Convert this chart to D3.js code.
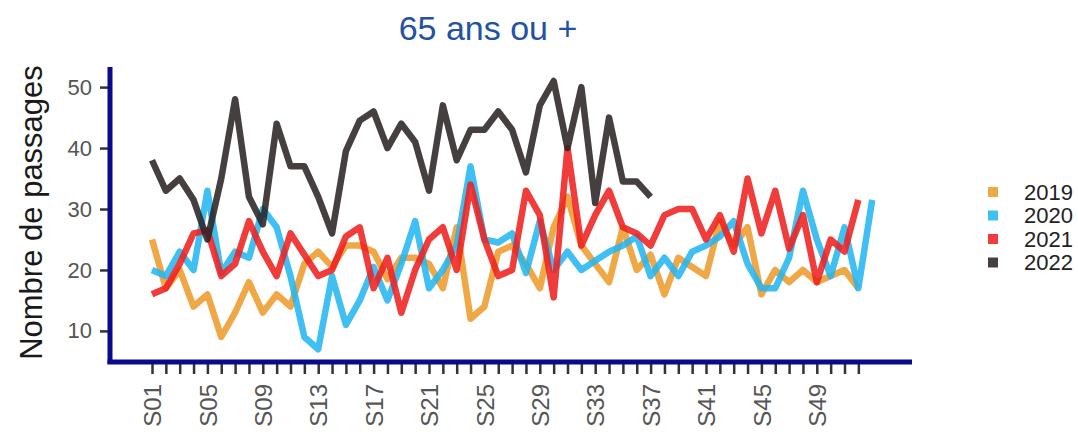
<!DOCTYPE html>
<html>
<head>
<meta charset="utf-8">
<script src="https://cdn.jsdelivr.net/npm/d3@7"></script>
<style>
  html, body { margin: 0; padding: 0; background: #fff; }
  svg { display: block; font-family: "Liberation Sans", Arial, sans-serif; }
</style>
</head>
<body>
<svg id="chart" width="1078" height="436"></svg>
<script>
// ---- data ----
const title = "65 ans ou +";
const yTitle = "Nombre de passages";
const years = ["2019", "2020", "2021", "2022"];
const colors = ["#EE9A2A", "#22B5F0", "#EF1F1F", "#2A2222"];
const weekTicks = d3.range(1, 53);          // S01..S52 tick marks
const weekLabelEvery = 4;                   // S01, S05, ... S49
const yTicks = [10, 20, 30, 40, 50];

const s2019 = [25,17,20,14,16,9,13,18,13,16,14,21,23,20.5,24,24,23,18.5,22,22,21,17,27,12,14,23,24,21,17,27,32,24,21,18,27,20,22.5,16,22,20.5,19,28,24,27,16,20,18,20,18,19,20,17];
const s2020 = [20,19,23,20,33,19.5,23,22,30,27,19,9,7,19,11,15,20.5,15,21,28,17,20,24,37,25,24.5,26,19.5,28,20,23,20,21.5,23,24,25.5,19,22,19,23,24,25.5,28,21,17,17,22,33,25,19,27,17,31.5];
const s2021 = [16,17,21,26,26.5,19,21,28,23,19,26,22.5,19,20,25.5,27,17,22,13,20,25,27,20,34,25,19,20,33,29,15.5,40,24,29,33,27,26,24,29,30,30,25,29,23,35,26,33,23.5,29,18,25,23,31.5];
const s2022 = [38,33,35,31.5,25,35,48,32,27.5,44,37,37,32,26,39.5,44.5,46,40,44,41,33,47,38,43,43,46,43,36,47,51,40,50,31,45,34.5,34.5,32];
const series = [s2019, s2020, s2021, s2022];

// ---- layout ----
const svg = d3.select("#chart");
const plotLeft = 110, plotRight = 912, plotTop = 67, plotBottom = 362;

const x = d3.scaleLinear().domain([1, 53]).range([152, 872.2]);
const y = d3.scaleLinear().domain([4.9, 53.3]).range([plotBottom, plotTop]);

// title
svg.append("text")
  .attr("x", 488).attr("y", 40)
  .attr("text-anchor", "middle")
  .attr("font-size", 34)
  .attr("fill", "#2352A0")
  .text(title);

// y title
svg.append("text")
  .attr("transform", `translate(42,${(plotTop + plotBottom) / 2 - 2}) rotate(-90)`)
  .attr("text-anchor", "middle")
  .attr("font-size", 31)
  .attr("fill", "#1a1a1a")
  .text(yTitle);

// lines
const line = d3.line().x((d, i) => x(i + 1)).y(d => y(d));
series.forEach((s, k) => {
  svg.append("path")
    .datum(s)
    .attr("d", line)
    .attr("fill", "none")
    .attr("stroke", colors[k])
    .attr("stroke-width", 6.5)
    .attr("stroke-linejoin", "round")
    .attr("stroke-opacity", 0.87);
});

// x axis
const xAxis = d3.axisBottom(x)
  .tickValues(weekTicks)
  .tickSize(12)
  .tickFormat(w => ((w - 1) % weekLabelEvery === 0) ? "S" + String(w).padStart(2, "0") : "");
const gx = svg.append("g").attr("transform", `translate(0,${plotBottom})`).call(xAxis);
gx.select(".domain").remove();
gx.selectAll(".tick line").attr("stroke", "#333").attr("stroke-width", 2.5);
gx.selectAll(".tick text")
  .attr("transform", "rotate(-90)")
  .attr("x", -22).attr("y", 0).attr("dy", "0.36em")
  .attr("text-anchor", "end")
  .attr("font-size", 24)
  .attr("fill", "#555");

// y axis
const yAxis = d3.axisLeft(y).tickValues(yTicks).tickSize(10).tickPadding(8);
const gy = svg.append("g").attr("transform", `translate(${plotLeft},0)`).call(yAxis);
gy.select(".domain").remove();
gy.selectAll(".tick line").attr("stroke", "#333").attr("stroke-width", 2.5);
gy.selectAll(".tick text").attr("font-size", 22).attr("fill", "#555");

// axis lines (thick dark blue)
svg.append("line")
  .attr("x1", plotLeft).attr("x2", plotLeft)
  .attr("y1", plotTop).attr("y2", plotBottom + 2)
  .attr("stroke", "#0A0A8E").attr("stroke-width", 5);
svg.append("line")
  .attr("x1", plotLeft - 2.5).attr("x2", plotRight)
  .attr("y1", plotBottom).attr("y2", plotBottom)
  .attr("stroke", "#0A0A8E").attr("stroke-width", 5);

// legend
const lg = svg.append("g");
years.forEach((yr, k) => {
  const cy = 192 + k * 23.5;
  lg.append("rect")
    .attr("x", 988).attr("y", cy - 5).attr("width", 10).attr("height", 10)
    .attr("fill", colors[k]).attr("fill-opacity", 0.87);
  lg.append("text")
    .attr("x", 1024).attr("y", cy).attr("dy", "0.36em")
    .attr("font-size", 22).attr("fill", "#222")
    .text(yr);
});
</script>
</body>
</html>
